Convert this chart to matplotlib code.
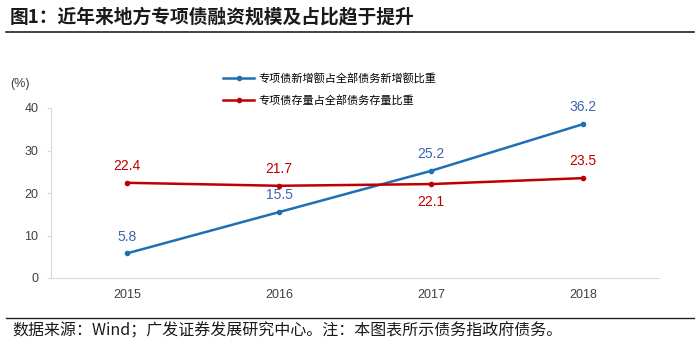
import matplotlib.pyplot as plt
from matplotlib.lines import Line2D

plt.rcParams['font.family'] = ['Noto Sans CJK SC', 'DejaVu Sans']

years = ['2015', '2016', '2017', '2018']
new_share = [5.8, 15.5, 25.2, 36.2]
stock_share = [22.4, 21.7, 22.1, 23.5]
new_label = '专项债新增额占全部债务新增额比重'
stock_label = '专项债存量占全部债务存量比重'

blue = '#1f6fb4'
red = '#c00000'

fig = plt.figure(figsize=(7, 3.53), dpi=100)
ax = fig.add_axes([51/700, 1 - 278/353, 608/700, 170/353])

x = range(len(years))
ax.plot(x, new_share, color=blue, lw=1.8, marker='o', ms=3)
ax.plot(x, stock_share, color=red, lw=1.8, marker='o', ms=3)

for i, v in enumerate(new_share):
    ax.annotate(f'{v}', (i, v), xytext=(0, 7), textcoords='offset points',
                ha='center', va='bottom', color='#3d64b0', fontsize=10, family='Liberation Sans')
for i, v in enumerate(stock_share):
    off = -8 if i == 2 else 7
    ax.annotate(f'{v}', (i, v), xytext=(0, off), textcoords='offset points',
                ha='center', va='top' if off < 0 else 'bottom', color=red, fontsize=10,
                family='Liberation Sans')

ax.set_xlim(-0.5, 3.5)
ax.set_ylim(0, 40)
ax.set_yticks([0, 10, 20, 30, 40])
ax.set_xticks(list(x))
ax.set_xticklabels(years)
for s in ['top', 'right']:
    ax.spines[s].set_visible(False)
for s in ['left', 'bottom']:
    ax.spines[s].set_color('#d9d9d9')
ax.tick_params(axis='y', length=3, color='#d9d9d9', labelcolor='#404040', labelsize=9, pad=6)
ax.tick_params(axis='x', length=0, labelcolor='#404040', labelsize=9, pad=8)
for t in ax.get_xticklabels() + ax.get_yticklabels():
    t.set_family('Liberation Sans')
ax.text(-0.035, 1.14, '(%)', transform=ax.transAxes, ha='right', va='center',
        fontsize=9, color='#404040', family='Liberation Sans')

handles = [Line2D([], [], color=blue, lw=1.8, marker='o', ms=3),
           Line2D([], [], color=red, lw=1.8, marker='o', ms=3)]
fig.legend(handles, [new_label, stock_label], loc='upper left',
           bbox_to_anchor=(213/700, 1 - 63/353), frameon=False, fontsize=8,
           handlelength=2.8, labelspacing=1.0, handletextpad=0.4)

fig.text(10/700, 1 - 17/353, '图1：近年来地方专项债融资规模及占比趋于提升', fontsize=13.5,
         fontweight='bold', va='center', ha='left', color='#1a1a1a')
fig.add_artist(Line2D([6/700, 694/700], [1 - 32/353, 1 - 32/353], color='#222222', lw=1.2))
fig.add_artist(Line2D([6/700, 694/700], [1 - 318/353, 1 - 318/353], color='#222222', lw=1.0))
fig.text(12/700, 1 - 331/353, '数据来源：Wind；广发证券发展研究中心。注：本图表所示债务指政府债务。',
         fontsize=11.5, va='center', ha='left', color='#1a1a1a')

fig.savefig('out.png', dpi=100)
